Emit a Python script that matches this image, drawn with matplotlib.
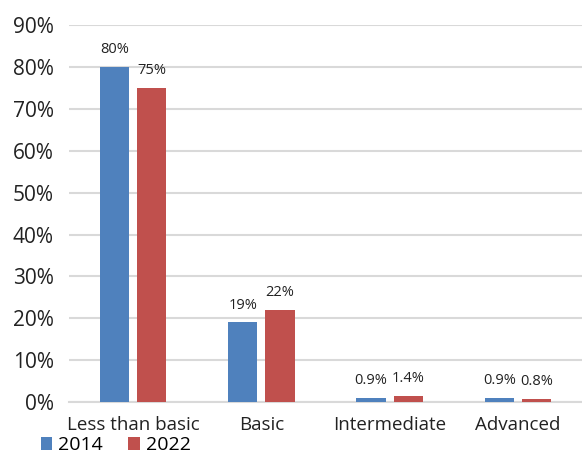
import matplotlib.pyplot as plt
import numpy as np

categories = ['Less than basic', 'Basic', 'Intermediate', 'Advanced']
years = ['2014', '2022']
share_2014 = [80, 19, 0.9, 0.9]
share_2022 = [75, 22, 1.4, 0.8]
labels_2014 = ['80%', '19%', '0.9%', '0.9%']
labels_2022 = ['75%', '22%', '1.4%', '0.8%']
yticks = list(range(0, 100, 10))

blue = '#4F81BD'
red = '#C0504D'
grid = '#D9D9D9'

plt.rcParams['font.family'] = ['Open Sans', 'DejaVu Sans']

fig = plt.figure(figsize=(5.82, 4.58), dpi=100)
ax = fig.add_axes([0.1186, 0.1223, 0.8814, 0.8227])

x = np.arange(len(categories))
w = 0.227
off = 0.145
b1 = ax.bar(x - off, share_2014, w, color=blue, label=years[0], zorder=3)
b2 = ax.bar(x + off, share_2022, w, color=red, label=years[1], zorder=3)

for bars, labs in ((b1, labels_2014), (b2, labels_2022)):
    for bar, lab in zip(bars, labs):
        ax.annotate(lab, (bar.get_x() + bar.get_width() / 2, bar.get_height()),
                    xytext=(0, 7), textcoords='offset points',
                    ha='center', va='bottom', fontsize=10.5, color='#222222')

ax.set_xlim(-0.5, len(categories) - 0.5)
ax.set_ylim(0, 90)
ax.set_yticks(yticks)
ax.set_yticklabels([f'{t}%' for t in yticks], fontsize=15)
ax.set_xticks(x)
ax.set_xticklabels(categories, fontsize=13.5)
ax.yaxis.grid(True, color=grid, linewidth=1.5, zorder=0)
for s in ('top', 'right', 'left'):
    ax.spines[s].set_visible(False)
ax.spines['bottom'].set_color(grid)
ax.spines['bottom'].set_linewidth(1.5)
ax.tick_params(length=0, colors='#222222')
ax.tick_params(axis='y', pad=11)
ax.tick_params(axis='x', pad=10)

fig.legend(handles=[b1, b2], loc='lower left', bbox_to_anchor=(0.04, -0.03),
           ncol=2, frameon=False, fontsize=14, handlelength=0.6, handleheight=0.6,
           handletextpad=0.3, columnspacing=1.3)

fig.savefig('out.png', dpi=100)
